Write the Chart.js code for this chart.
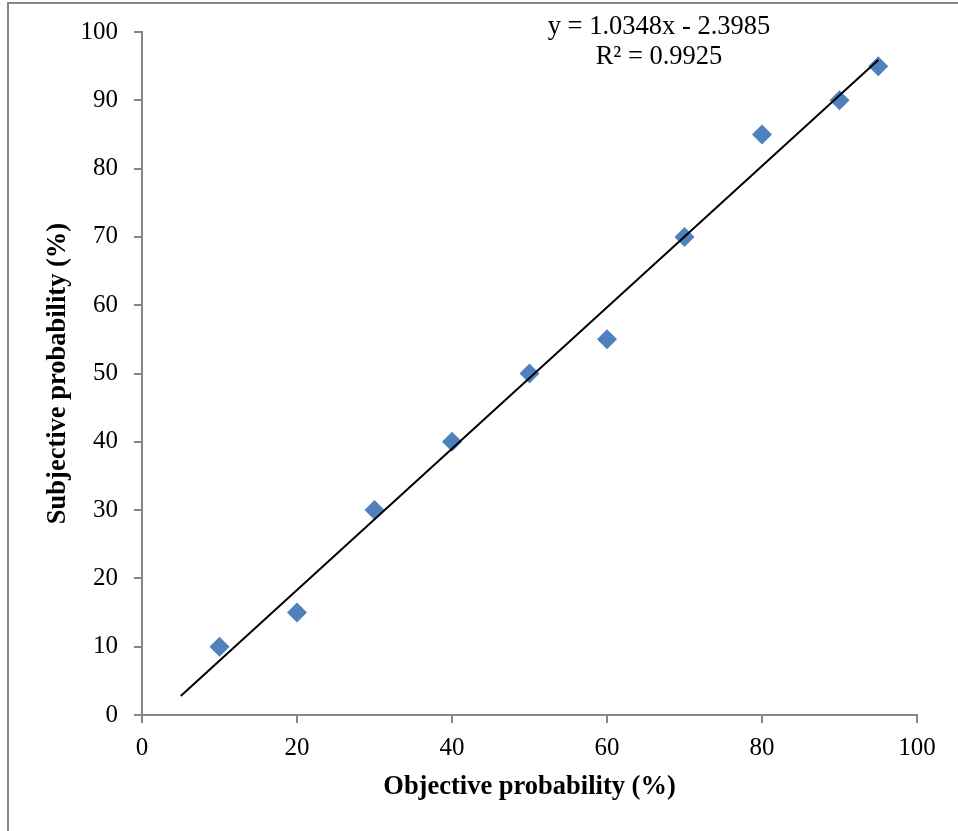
<!DOCTYPE html>
<html>
<head>
<meta charset="utf-8">
<script src="https://cdn.jsdelivr.net/npm/chart.js@4/dist/chart.umd.min.js"></script>
<style>
  html, body { margin: 0; padding: 0; background: #fff; }
  #wrap { width: 958px; height: 831px; position: relative; }
</style>
</head>
<body>
<div id="wrap"><canvas id="c" width="958" height="831"></canvas></div>
<script>
// Data
const objectiveX = [10, 20, 30, 40, 50, 60, 70, 80, 90, 95];
const subjectiveY = [10, 15, 30, 40, 50, 55, 70, 85, 90, 95];
// Linear trendline as printed on the chart: y = 1.0348x - 2.3985, drawn from x=5 to x=95
const trendSlope = 1.0348;
const trendIntercept = -2.3985;
const trendX = [5, 95];
const equationLines = ['y = 1.0348x - 2.3985', 'R\u00B2 = 0.9925'];
const xTitle = 'Objective probability (%)';
const yTitle = 'Subjective probability (%)';

const FONT = "'Liberation Serif', 'Times New Roman', serif";
const AXIS = '#868686';
const TICK_SIZE = 25;
const TITLE_SIZE = 26.5;

const scatterPts = objectiveX.map((x, i) => ({ x: x, y: subjectiveY[i] }));
const trendPts = trendX.map(x => ({ x: x, y: trendSlope * x + trendIntercept }));

const decor = {
  id: 'decor',
  afterDraw(chart) {
    const ctx = chart.ctx;
    ctx.save();
    ctx.strokeStyle = AXIS;
    ctx.lineWidth = 2;
    ctx.strokeRect(8, 3, 1200, 1200);
    ctx.fillStyle = '#000';
    ctx.font = TITLE_SIZE + 'px ' + FONT;
    ctx.textAlign = 'center';
    ctx.textBaseline = 'middle';
    ctx.fillText(equationLines[0], 659, 27);
    ctx.fillText(equationLines[1], 659, 57);
    ctx.restore();
  }
};

new Chart(document.getElementById('c'), {
  type: 'scatter',
  data: {
    datasets: [
      {
        label: 'Data',
        data: scatterPts,
        pointStyle: 'rectRot',
        pointRadius: 10,
        pointHoverRadius: 10,
        backgroundColor: '#4F81BD',
        borderColor: '#4F81BD',
        borderWidth: 0,
        order: 2
      },
      {
        label: 'Trend',
        type: 'line',
        data: trendPts,
        borderColor: '#000',
        borderWidth: 2,
        pointRadius: 0,
        fill: false,
        order: 1
      }
    ]
  },
  options: {
    responsive: false,
    animation: false,
    devicePixelRatio: 1,
    layout: { padding: { left: 42, right: 41, top: 32, bottom: 28 } },
    plugins: { legend: { display: false }, tooltip: { enabled: false } },
    scales: {
      x: {
        type: 'linear',
        min: 0, max: 100,
        ticks: { stepSize: 20, color: '#000', font: { family: FONT, size: TICK_SIZE }, padding: 10, maxRotation: 0 },
        grid: { display: true, drawOnChartArea: false, drawTicks: true, tickLength: 8, color: AXIS, lineWidth: 2 },
        border: { display: true, color: AXIS, width: 2 },
        title: { display: true, text: xTitle, color: '#000', font: { family: FONT, size: TITLE_SIZE, weight: 'bold' }, padding: { top: 0, bottom: 0 } },
        afterFit(scale) { scale.height = 831 - 715 - 28; }
      },
      y: {
        type: 'linear',
        min: 0, max: 100,
        ticks: { stepSize: 10, color: '#000', font: { family: FONT, size: TICK_SIZE }, padding: 16 },
        grid: { display: true, drawOnChartArea: false, drawTicks: true, tickLength: 8, color: AXIS, lineWidth: 2 },
        border: { display: true, color: AXIS, width: 2 },
        title: { display: true, text: yTitle, color: '#000', font: { family: FONT, size: TITLE_SIZE, weight: 'bold' }, padding: { top: 0, bottom: 0 } },
        afterFit(scale) { scale.width = 142 - 42; }
      }
    }
  },
  plugins: [decor]
});
</script>
</body>
</html>
